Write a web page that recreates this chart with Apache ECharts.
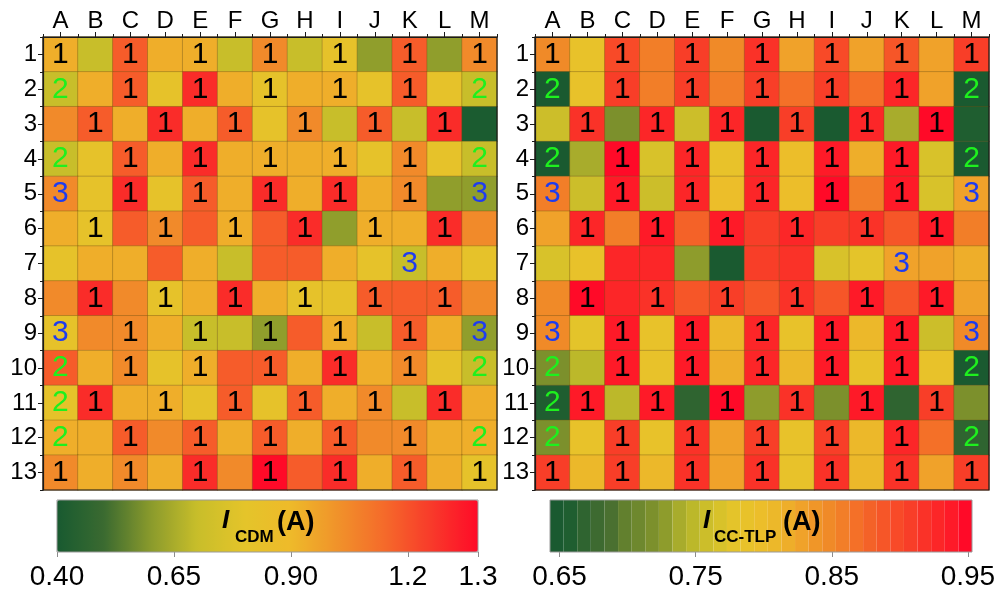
<!DOCTYPE html>
<html>
<head>
<meta charset="utf-8">
<script src="https://cdn.jsdelivr.net/npm/echarts@6/dist/echarts.min.js"></script>
<style>
  html, body { margin: 0; padding: 0; background: #fff; }
  #chart { width: 1000px; height: 593px; }
</style>
</head>
<body>
<div id="chart"></div>
<script>
// Pad columns and rows
const cols = ['A', 'B', 'C', 'D', 'E', 'F', 'G', 'H', 'I', 'J', 'K', 'L', 'M'];
const rows = ['1', '2', '3', '4', '5', '6', '7', '8', '9', '10', '11', '12', '13'];

// Failure current, CDM test (A)
const cdmValues = [
  [0.93, 0.70, 1.13, 0.93, 0.93, 0.70, 1.02, 0.70, 0.82, 0.61, 1.13, 0.61, 1.02],
  [0.70, 0.93, 1.13, 0.82, 1.23, 0.93, 0.82, 0.93, 0.93, 0.82, 1.13, 0.82, 0.70],
  [1.02, 1.13, 0.93, 1.23, 0.93, 1.13, 0.82, 1.02, 0.70, 1.13, 0.70, 1.23, 0.41],
  [0.70, 0.82, 1.13, 0.93, 1.23, 0.93, 0.93, 0.93, 0.93, 0.82, 1.02, 0.82, 0.70],
  [1.02, 0.82, 1.23, 0.82, 1.13, 0.93, 1.23, 0.93, 1.23, 0.93, 1.02, 0.61, 0.61],
  [0.93, 0.82, 1.13, 1.02, 1.13, 0.93, 1.13, 1.23, 0.61, 0.93, 0.93, 1.23, 1.02],
  [0.82, 0.93, 0.93, 1.13, 0.93, 0.70, 1.13, 1.13, 0.93, 0.82, 0.70, 0.93, 0.82],
  [1.02, 1.23, 1.02, 0.82, 0.93, 1.23, 0.93, 0.82, 0.82, 1.13, 1.13, 1.13, 1.02],
  [0.82, 1.02, 1.02, 0.93, 0.70, 0.70, 0.61, 1.13, 0.93, 0.70, 1.13, 0.93, 0.61],
  [1.13, 0.93, 1.02, 0.82, 0.93, 1.13, 1.13, 0.93, 1.23, 0.93, 1.02, 0.82, 0.70],
  [0.82, 1.23, 0.93, 0.93, 0.82, 1.13, 0.82, 1.13, 0.93, 1.02, 0.70, 1.23, 0.93],
  [0.93, 0.93, 1.13, 1.02, 1.13, 0.93, 1.13, 0.93, 1.13, 1.02, 1.02, 0.93, 0.93],
  [1.02, 0.93, 1.02, 0.93, 1.23, 1.02, 1.30, 1.13, 1.23, 0.93, 1.13, 0.93, 0.82]
];

// Failure current, CC-TLP test (A)
const tlpValues = [
  [0.855, 0.79, 0.90, 0.86, 0.91, 0.85, 0.92, 0.83, 0.90, 0.83, 0.89, 0.83, 0.91],
  [0.65, 0.79, 0.91, 0.86, 0.91, 0.86, 0.91, 0.875, 0.91, 0.87, 0.93, 0.83, 0.65],
  [0.76, 0.92, 0.72, 0.93, 0.765, 0.93, 0.65, 0.91, 0.65, 0.93, 0.74, 0.95, 0.665],
  [0.65, 0.745, 0.95, 0.775, 0.935, 0.79, 0.935, 0.805, 0.94, 0.82, 0.94, 0.775, 0.65],
  [0.86, 0.76, 0.94, 0.76, 0.935, 0.80, 0.935, 0.80, 0.95, 0.865, 0.94, 0.77, 0.83],
  [0.83, 0.935, 0.86, 0.94, 0.88, 0.94, 0.91, 0.935, 0.91, 0.92, 0.895, 0.94, 0.86],
  [0.77, 0.79, 0.935, 0.935, 0.735, 0.65, 0.91, 0.925, 0.775, 0.78, 0.83, 0.83, 0.825],
  [0.85, 0.95, 0.935, 0.925, 0.895, 0.91, 0.895, 0.925, 0.895, 0.94, 0.89, 0.94, 0.83],
  [0.85, 0.78, 0.94, 0.79, 0.94, 0.81, 0.935, 0.79, 0.94, 0.81, 0.94, 0.765, 0.85],
  [0.72, 0.755, 0.94, 0.79, 0.94, 0.82, 0.935, 0.81, 0.94, 0.79, 0.94, 0.79, 0.655],
  [0.665, 0.94, 0.755, 0.94, 0.675, 0.95, 0.73, 0.925, 0.725, 0.94, 0.675, 0.915, 0.725],
  [0.72, 0.79, 0.91, 0.79, 0.925, 0.83, 0.91, 0.79, 0.91, 0.81, 0.935, 0.87, 0.675],
  [0.91, 0.815, 0.91, 0.81, 0.92, 0.835, 0.92, 0.79, 0.925, 0.81, 0.925, 0.835, 0.91]
];

// Pad type printed in each cell (0 = no label)
const padTypes = [
  [1, 0, 1, 0, 1, 0, 1, 0, 1, 0, 1, 0, 1],
  [2, 0, 1, 0, 1, 0, 1, 0, 1, 0, 1, 0, 2],
  [0, 1, 0, 1, 0, 1, 0, 1, 0, 1, 0, 1, 0],
  [2, 0, 1, 0, 1, 0, 1, 0, 1, 0, 1, 0, 2],
  [3, 0, 1, 0, 1, 0, 1, 0, 1, 0, 1, 0, 3],
  [0, 1, 0, 1, 0, 1, 0, 1, 0, 1, 0, 1, 0],
  [0, 0, 0, 0, 0, 0, 0, 0, 0, 0, 3, 0, 0],
  [0, 1, 0, 1, 0, 1, 0, 1, 0, 1, 0, 1, 0],
  [3, 0, 1, 0, 1, 0, 1, 0, 1, 0, 1, 0, 3],
  [2, 0, 1, 0, 1, 0, 1, 0, 1, 0, 1, 0, 2],
  [2, 1, 0, 1, 0, 1, 0, 1, 0, 1, 0, 1, 0],
  [2, 0, 1, 0, 1, 0, 1, 0, 1, 0, 1, 0, 2],
  [1, 0, 1, 0, 1, 0, 1, 0, 1, 0, 1, 0, 1]
];

// Colour-bar ticks
const cdmTickValues = [0.40, 0.65, 0.90, 1.15, 1.30];
const cdmTickLabels = ['0.40', '0.65', '0.90', '1.2', '1.3'];
const tlpTickValues = [0.65, 0.75, 0.85, 0.95];
const tlpTickLabels = ['0.65', '0.75', '0.85', '0.95'];

// Colour scales
const cdmColors = ['#185a30', '#3a6a30', '#8a9a2c', '#c8be2a', '#e4c42a',
                   '#eeba2a', '#f0922a', '#f56a2a', '#f83a2a', '#ff0a28'];
const tlpColors = ['#1a5a30', '#1f5e30', '#2f6430', '#3d6a30', '#4a7030', '#62802e',
                   '#6e882e', '#7c902c', '#8e9c2c', '#a8ac2c', '#bcb82a', '#ccbe2a',
                   '#d8c22a', '#e4c42a', '#e8c22a', '#ecbe2a', '#ecb82a', '#eeae2a',
                   '#f0a22a', '#f09628', '#f08a28', '#f27e28', '#f47028', '#f46228',
                   '#f65628', '#f84a28', '#f83e28', '#fa3228', '#fc2628', '#fe1a28', '#ff0a28'];

const FONT = '"Liberation Sans", Arial, sans-serif';
const AXIS_COLOR = '#1a1a1a';

function toCells(values) {
  const out = [];
  values.forEach((row, r) => row.forEach((v, c) => out.push([c, r, v, padTypes[r][c]])));
  return out;
}

function heatAxes(g) {
  const x = [
    {
      type: 'category', gridIndex: g, position: 'top', data: cols, z: 6,
      axisLine: { show: true, lineStyle: { color: AXIS_COLOR, width: 1.2 } },
      axisTick: { show: true, alignWithLabel: true, interval: 0, length: 5, lineStyle: { color: AXIS_COLOR } },
      axisLabel: { interval: 0, fontSize: 24, color: '#000', fontFamily: FONT, margin: 4 },
      splitLine: { show: false }
    },
    {
      type: 'category', gridIndex: g, position: 'top', data: cols, z: 6,
      axisLine: { show: false },
      axisTick: { show: true, interval: 0, length: 3, lineStyle: { color: AXIS_COLOR } },
      axisLabel: { show: false }, splitLine: { show: false }
    }
  ];
  const y = [
    {
      type: 'category', gridIndex: g, position: 'left', data: rows, inverse: true, z: 6,
      axisLine: { show: true, lineStyle: { color: AXIS_COLOR, width: 1.2 } },
      axisTick: { show: true, alignWithLabel: true, interval: 0, length: 5, lineStyle: { color: AXIS_COLOR } },
      axisLabel: { interval: 0, fontSize: 24, color: '#000', fontFamily: FONT, margin: 6 },
      splitLine: { show: false }
    },
    {
      type: 'category', gridIndex: g, position: 'left', data: rows, inverse: true, z: 6,
      axisLine: { show: false },
      axisTick: { show: true, interval: 0, length: 3, lineStyle: { color: AXIS_COLOR } },
      axisLabel: { show: false }, splitLine: { show: false }
    }
  ];
  return { x, y };
}

function barAxis(g, min, max, ticks, labels) {
  return {
    type: 'value', gridIndex: g, position: 'bottom', min, max,
    axisLine: { show: false }, splitLine: { show: false },
    axisTick: { show: true, length: 5, lineStyle: { color: '#8c8c8c' }, customValues: ticks },
    axisLabel: {
      customValues: ticks, fontSize: 28, color: '#000', fontFamily: FONT, margin: 11,
      formatter: v => {
        const i = ticks.findIndex(t => Math.abs(t - v) < 1e-6);
        return i >= 0 ? labels[i] : '';
      }
    }
  };
}

function barTitle(x, sub, subX, unitX) {
  const base = { fill: '#000', fontFamily: FONT, fontWeight: 'bold', align: 'left', verticalAlign: 'middle' };
  return [
    { type: 'text', z: 100, x: x, y: 521,
      style: Object.assign({}, base, { text: 'I', fontSize: 26, fontStyle: 'italic' }) },
    { type: 'text', z: 100, x: subX, y: 537,
      style: Object.assign({}, base, { text: sub, fontSize: 17 }) },
    { type: 'text', z: 100, x: unitX, y: 523,
      style: Object.assign({}, base, { text: '(A)', fontSize: 27 }) }
  ];
}

const leftAxes = heatAxes(0);
const rightAxes = heatAxes(1);

const cellLabel = {
  show: true,
  formatter: p => (p.data[3] ? '{t' + p.data[3] + '|' + p.data[3] + '}' : ''),
  rich: {
    t1: { color: '#000000', fontSize: 30, fontFamily: FONT },
    t2: { color: '#1ef01e', fontSize: 30, fontFamily: FONT },
    t3: { color: '#1e3cf0', fontSize: 30, fontFamily: FONT }
  }
};
const cellStyle = { borderColor: 'rgba(110,80,20,0.35)', borderWidth: 1 };

const option = {
  animation: false,
  backgroundColor: '#ffffff',
  grid: [
    { left: 43, top: 37, width: 454, height: 453, show: true, z: 6,
      backgroundColor: 'rgba(0,0,0,0)', borderColor: AXIS_COLOR, borderWidth: 1.2 },
    { left: 535, top: 37, width: 454, height: 453, show: true, z: 6,
      backgroundColor: 'rgba(0,0,0,0)', borderColor: AXIS_COLOR, borderWidth: 1.2 },
    { left: 57, top: 500, width: 421, height: 52, show: true, z: 6,
      backgroundColor: 'rgba(0,0,0,0)', borderColor: '#9a9a9a', borderWidth: 1 },
    { left: 550, top: 500, width: 422, height: 52, show: true, z: 6,
      backgroundColor: 'rgba(0,0,0,0)', borderColor: '#9a9a9a', borderWidth: 1 }
  ],
  xAxis: [
    ...leftAxes.x, ...rightAxes.x,
    barAxis(2, 0.40, 1.30, cdmTickValues, cdmTickLabels),
    barAxis(3, 0.643, 0.953, tlpTickValues, tlpTickLabels)
  ],
  yAxis: [
    ...leftAxes.y, ...rightAxes.y,
    { type: 'value', gridIndex: 2, min: 0, max: 1, show: false },
    { type: 'value', gridIndex: 3, min: 0, max: 1, show: false }
  ],
  visualMap: [
    {
      type: 'continuous', seriesIndex: 0, dimension: 2, min: 0.40, max: 1.30,
      orient: 'horizontal', left: 57, top: 500, itemWidth: 52, itemHeight: 421,
      padding: 0, calculable: false, hoverLink: false, text: null,
      inRange: { color: cdmColors }
    },
    {
      type: 'piecewise', seriesIndex: 1, dimension: 2, min: 0.645, max: 0.955,
      splitNumber: 31, orient: 'horizontal', left: 550, top: 500,
      itemWidth: 422 / 31, itemHeight: 52, itemGap: 0, itemSymbol: 'rect',
      showLabel: false, padding: 0, hoverLink: false, selectedMode: false,
      inRange: { color: tlpColors }
    }
  ],
  series: [
    { type: 'heatmap', name: 'CDM', xAxisIndex: 0, yAxisIndex: 0,
      data: toCells(cdmValues), label: cellLabel, itemStyle: cellStyle,
      emphasis: { disabled: true } },
    { type: 'heatmap', name: 'CC-TLP', xAxisIndex: 2, yAxisIndex: 2,
      data: toCells(tlpValues), label: cellLabel, itemStyle: cellStyle,
      emphasis: { disabled: true } }
  ],
  graphic: [
    ...barTitle(222, 'CDM', 235, 277),
    ...barTitle(703, 'CC-TLP', 714, 783)
  ]
};

const chart = echarts.init(document.getElementById('chart'), null, { renderer: 'canvas' });
chart.setOption(option);
</script>
</body>
</html>
